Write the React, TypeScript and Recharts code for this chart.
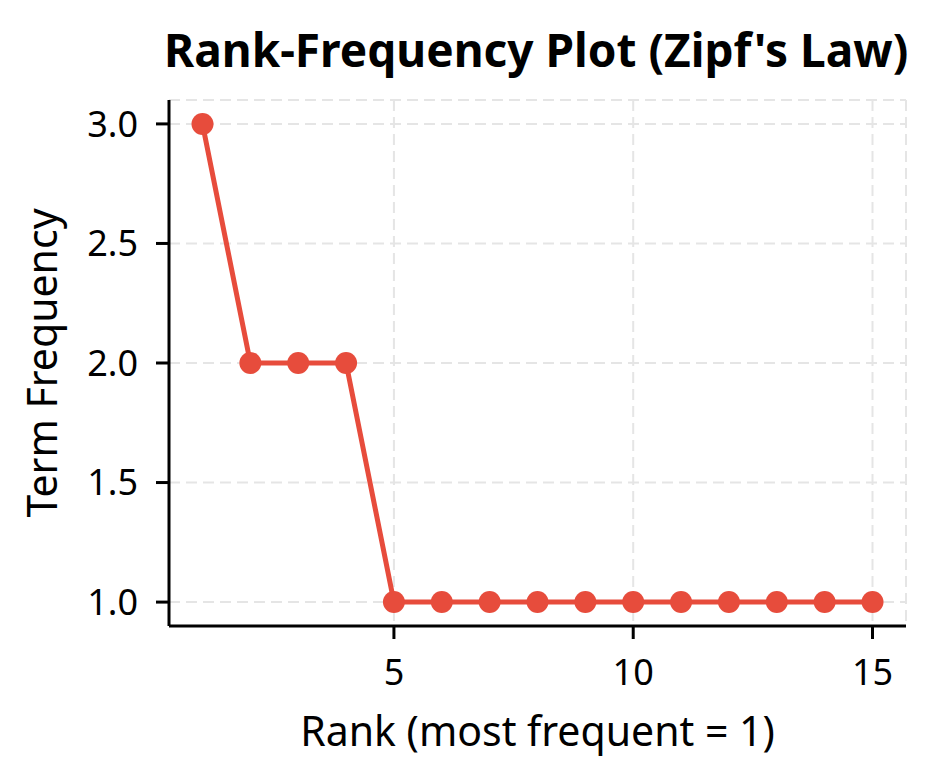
import React from 'react';
import { LineChart, Line, XAxis, YAxis, CartesianGrid, Label } from 'recharts';

const RANKS = [1, 2, 3, 4, 5, 6, 7, 8, 9, 10, 11, 12, 13, 14, 15];
const FREQS = [3, 2, 2, 2, 1, 1, 1, 1, 1, 1, 1, 1, 1, 1, 1];
const X_TICKS = [5, 10, 15];
const Y_TICKS = [1.0, 1.5, 2.0, 2.5, 3.0];

const RED = '#e74c3c';
const FONT = "'Noto Sans', sans-serif";

const data = RANKS.map((r, i) => ({ rank: r, freq: FREQS[i] }));

const tickStyle = { fontSize: 36, fill: '#000', fontFamily: FONT };

export default function App() {
  return (
    <div style={{ position: 'absolute', left: 0, top: 0, width: 941, height: 784, background: '#fff' }}>
      <div style={{
        position: 'absolute', left: 164, width: 737, top: 21, textAlign: 'center',
        fontFamily: FONT, fontWeight: 700, fontSize: 46, lineHeight: '56px', color: '#000', whiteSpace: 'nowrap',
      }}>
        Rank-Frequency Plot (Zipf's Law)
      </div>
      <LineChart
        width={941}
        height={784}
        data={data}
        margin={{ top: 100, right: 35, bottom: 118, left: 109 }}
        style={{ position: 'absolute', left: 0, top: 0 }}
      >
        <CartesianGrid stroke="#e5e5e5" strokeWidth={2} strokeDasharray="11 6" />
        <XAxis
          dataKey="rank"
          type="number"
          domain={[0.3, 15.7]}
          ticks={X_TICKS}
          allowDataOverflow
          height={40}
          tickSize={13}
          tickMargin={20}
          axisLine={{ stroke: '#000', strokeWidth: 3 }}
          tickLine={{ stroke: '#000', strokeWidth: 3 }}
          tick={tickStyle}
        >
          <Label
            content={() => (
              <text x={537.5} y={746} textAnchor="middle" fontFamily={FONT} fontSize={41} fill="#000">
                Rank (most frequent = 1)
              </text>
            )}
          />
        </XAxis>
        <YAxis
          type="number"
          domain={[0.9, 3.1]}
          ticks={Y_TICKS}
          allowDataOverflow
          width={60}
          tickSize={13}
          tickMargin={18}
          tickFormatter={(v) => v.toFixed(1)}
          axisLine={{ stroke: '#000', strokeWidth: 3 }}
          tickLine={{ stroke: '#000', strokeWidth: 3 }}
          tick={tickStyle}
        >
          <Label
            content={() => (
              <text x={57} y={363} textAnchor="middle" transform="rotate(-90, 57, 363)" fontFamily={FONT} fontSize={41} fill="#000">
                Term Frequency
              </text>
            )}
          />
        </YAxis>
        <Line
          dataKey="freq"
          stroke={RED}
          strokeWidth={5}
          dot={{ r: 11, fill: RED, stroke: 'none' }}
          activeDot={false}
          isAnimationActive={false}
        />
      </LineChart>
    </div>
  );
}
